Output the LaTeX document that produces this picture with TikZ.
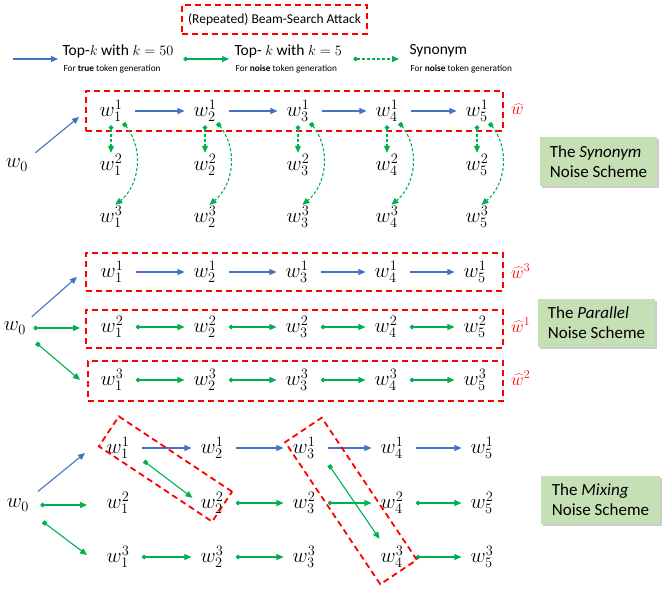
\documentclass[tikz,border=0pt]{standalone}
\usepackage{fontspec}
\setmainfont{Carlito}
\usetikzlibrary{arrows.meta,shadows}

\definecolor{trueblue}{HTML}{4472C4}
\definecolor{noisegreen}{HTML}{00B050}
\definecolor{schemefill}{HTML}{C5E0B4}

\begin{document}
\begin{tikzpicture}[x=1pt, y=-1pt,
        wnode/.style     = {inner sep=1pt, font=\fontsize{21}{23}\selectfont},
        hatlbl/.style    = {anchor=west, inner sep=1pt, text=red, font=\fontsize{17}{19}\selectfont},
        beambox/.style   = {draw=red, line width=1.8pt, dash pattern=on 6pt off 4pt, inner sep=0pt},
        schemebox/.style = {fill=schemefill, align=left, inner sep=0pt,
                            font=\fontsize{17}{20}\selectfont,
                            drop shadow={shadow xshift=2pt, shadow yshift=-2pt,
                                         fill=black!40, opacity=0.5}},
        legtxt/.style    = {anchor=west, font=\fontsize{15.5}{17}\selectfont},
        legsub/.style    = {anchor=west, font=\fontsize{9.3}{10}\selectfont},
        truearr/.style   = {-{Triangle[length=7pt,width=6pt]}, trueblue, line width=1.1pt},
        noisearr/.style  = {{Diamond[length=5pt,width=5pt]}-{Triangle[length=7pt,width=6pt]},
                            noisegreen, line width=1.1pt},
        sqarr/.style     = {{Square[length=4pt,width=4pt]}-{Triangle[length=7pt,width=6pt]},
                            noisegreen, line width=1.1pt},
        synarr/.style    = {noisearr, dash pattern=on 3pt off 2pt},
        synsqarr/.style  = {sqarr, dash pattern=on 3pt off 2pt},
        rowgap/.style    = {shorten <=11pt, shorten >=8pt}
    ]
    \useasboundingbox (0,0) rectangle (664,591);

    % legend
    \node[beambox, minimum width=185pt, minimum height=29pt,
          font=\fontsize{13.5}{16}\selectfont] (title) at (274.5,19.5)
        {(Repeated) Beam-Search Attack};
    \coordinate (lgA0) at (13,59);  \coordinate (lgA1) at (58,59);
    \coordinate (lgB0) at (183,59); \coordinate (lgB1) at (229,59);
    \coordinate (lgC0) at (353,59); \coordinate (lgC1) at (399,59);
    \draw[truearr]  (lgA0) -- (lgA1);
    \draw[noisearr] (lgB0) -- (lgB1);
    \draw[synarr]   (lgC0) -- (lgC1);
    \node[legtxt] (lgtrue)  at (59,51)  {Top-$k$ with $k=50$};
    \node[legsub] (lgtrueb) at (60,69)  {For \textbf{true} token generation};
    \node[legtxt] (lgnoise) at (231,51) {Top- $k$ with $k=5$};
    \node[legsub] (lgnoiseb) at (232,69) {For \textbf{noise} token generation};
    \node[legtxt] (lgsyn)   at (406,51) {Synonym};
    \node[legsub] (lgsynb)  at (407,69) {For \textbf{noise} token generation};

    % synonym scheme
    \node[wnode] (w0a) at (17,165) {$w_0$};
    \node[beambox, minimum width=417pt, minimum height=40pt] (bxa) at (294.5,111) {};
    \node[hatlbl] (hata) at (510,109) {$\widehat{w}$};
    \foreach \i/\x in {1/111,2/205,3/298,4/387,5/477} {
        \node[wnode] (s1\i) at (\x,111) {$w_{\i}^{1}$};
        \node[wnode] (s2\i) at (\x,165) {$w_{\i}^{2}$};
        \node[wnode] (s3\i) at (\x,217) {$w_{\i}^{3}$};
        \draw[synarr, shorten <=2pt] (s1\i.south) -- (s2\i.north);
        \draw[synsqarr] (s1\i.south east) to[bend left=45] (s3\i.70);
    }
    \foreach \i/\j in {1/2,2/3,3/4,4/5}
        \draw[truearr, rowgap] (s1\i) -- (s1\j);
    \coordinate (ta) at (79,117);
    \draw[truearr, shorten <=8pt] (w0a.north east) -- (ta);
    \node[schemebox, minimum width=117pt, minimum height=49pt] (synscheme)
        at (598.5,161.5) {The \textit{Synonym}\\Noise Scheme};

    % parallel scheme
    \node[wnode] (w0b) at (15,328) {$w_0$};
    \node[beambox, minimum width=417pt, minimum height=38pt] (bxb1) at (294.5,272) {};
    \node[beambox, minimum width=417pt, minimum height=38pt] (bxb2) at (294.5,329) {};
    \node[beambox, minimum width=415pt, minimum height=40pt] (bxb3) at (295.5,381) {};
    \node[hatlbl] (hatb1) at (510,271) {$\widehat{w}^{3}$};
    \node[hatlbl] (hatb2) at (510,325) {$\widehat{w}^{1}$};
    \node[hatlbl] (hatb3) at (510,378) {$\widehat{w}^{2}$};
    \foreach \i/\x in {1/112,2/205,3/297,4/386,5/475} {
        \node[wnode] (p1\i) at (\x,272) {$w_{\i}^{1}$};
        \node[wnode] (p2\i) at (\x,327) {$w_{\i}^{2}$};
        \node[wnode] (p3\i) at (\x,380) {$w_{\i}^{3}$};
    }
    \foreach \i/\j in {1/2,2/3,3/4,4/5} {
        \draw[truearr, rowgap]  (p1\i) -- (p1\j);
        \draw[noisearr, rowgap] (p2\i) -- (p2\j);
        \draw[noisearr, rowgap] (p3\i) -- (p3\j);
    }
    \coordinate (tb1) at (77,277);
    \coordinate (tb2) at (80,328);
    \coordinate (tb3) at (80,380);
    \draw[truearr, shorten <=6pt]  (w0b.north east) -- (tb1);
    \draw[noisearr, shorten <=6pt] (w0b.east) -- (tb2);
    \draw[sqarr, shorten <=12pt]   (w0b.south east) -- (tb3);
    \node[schemebox, minimum width=117pt, minimum height=48pt] (parscheme)
        at (596.5,323) {The \textit{Parallel}\\Noise Scheme};

    % mixing scheme
    \node[wnode] (w0c) at (18,505) {$w_0$};
    \foreach \i/\x in {1/118,2/212,3/304,4/392,5/482} {
        \node[wnode] (m1\i) at (\x,448) {$w_{\i}^{1}$};
        \node[wnode] (m2\i) at (\x,503) {$w_{\i}^{2}$};
        \node[wnode] (m3\i) at (\x,557) {$w_{\i}^{3}$};
    }
    \foreach \i/\j in {1/2,2/3,3/4,4/5}
        \draw[truearr, rowgap] (m1\i) -- (m1\j);
    \foreach \i/\j in {2/3,3/4,4/5}
        \draw[noisearr, rowgap] (m2\i) -- (m2\j);
    \foreach \i/\j in {1/2,2/3,4/5}
        \draw[noisearr, rowgap] (m3\i) -- (m3\j);
    \draw[sqarr] ([xshift=26pt, yshift=-1pt]m11.south) -- ([xshift=-7pt, yshift=-7pt]m22.north west);
    \draw[sqarr] ([xshift=25pt, yshift=-5pt]m13.south) -- ([yshift=6pt]m34.north west);
    \coordinate (tc1) at (85,453);
    \coordinate (tc2) at (87,505);
    \coordinate (tc3) at (87,555);
    \draw[truearr, shorten <=10pt]  (w0c.north east) -- (tc1);
    \draw[noisearr, shorten <=10pt] (w0c.east) -- (tc2);
    \draw[sqarr, shorten <=16pt]    (w0c.south east) -- (tc3);
    \node[beambox, rotate=-33.6, minimum width=136pt, minimum height=36pt] (mxa) at (165.5,469) {};
    \node[beambox, rotate=-56.2, minimum width=171pt, minimum height=44pt] (mxb) at (351,501) {};
    \node[schemebox, minimum width=119pt, minimum height=48pt] (mixscheme)
        at (600.5,500) {The \textit{Mixing}\\Noise Scheme};
\end{tikzpicture}
\end{document}
